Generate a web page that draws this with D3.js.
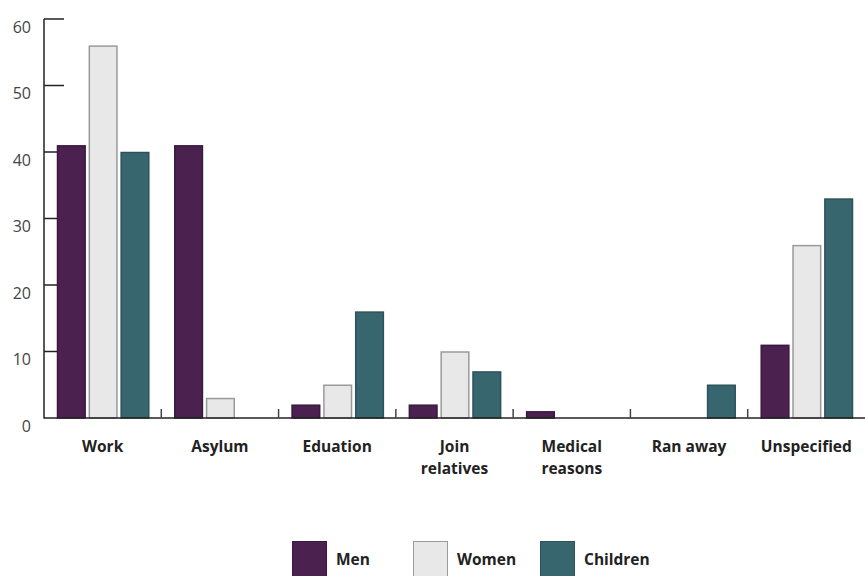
<!DOCTYPE html>
<html><head><meta charset="utf-8">
<script src="https://cdn.jsdelivr.net/npm/d3@7"></script>
<style>body{margin:0;background:#fff}svg{display:block}</style>
</head><body>
<script>
const categories = [["Work"],["Asylum"],["Eduation"],["Join","relatives"],["Medical","reasons"],["Ran away"],["Unspecified"]];
const seriesNames = ["Men","Women","Children"];
const men      = [41, 41, 2, 2, 1, 0, 11];
const women    = [56, 3, 5, 10, 0, 0, 26];
const children = [40, 0, 16, 7, 0, 5, 33];
const yTicks = [0,10,20,30,40,50,60];

const fills = ["#4b2150","#e8e8e8","#37666f"];
const strokes = ["#3a1840","#9a9a9a","#2c525a"];
const series = [men, women, children];

const W = 865, H = 576;
const svg = d3.select("body").append("svg").attr("width",W).attr("height",H);
const font = "'Open Sans', Lato, sans-serif";

const x0 = d3.scaleBand().domain(d3.range(categories.length)).range([44, 865]).paddingInner(0).paddingOuter(0);
const x1 = d3.scaleBand().domain(d3.range(3)).range([13, x0.bandwidth()-12]).paddingInner(0.1).paddingOuter(0);
const y = d3.scaleLinear().domain([0,60]).range([418, 19]);

// y-axis ticks (drawn behind bars)
const gy = svg.append("g");
gy.selectAll("line.t").data(yTicks.filter(d=>d>0)).join("line")
  .attr("x1",44).attr("x2",64).attr("y1",d=>y(d)).attr("y2",d=>y(d))
  .attr("stroke","#222").attr("stroke-width",1.5);
gy.selectAll("text").data(yTicks).join("text")
  .attr("x",31).attr("y",d=>y(d)+8).attr("dy","0.35em").attr("text-anchor","end")
  .attr("font-family",font).attr("font-size",16).attr("fill","#444").text(d=>d);

// bars
const g = svg.append("g");
categories.forEach((c,i)=>{
  series.forEach((s,j)=>{
    const v = s[i];
    if (v<=0) return;
    g.append("rect")
      .attr("x", x0(i)+x1(j)+0.5).attr("y", y(v)+0.5)
      .attr("width", x1.bandwidth()-1).attr("height", y(0)-y(v)-0.5)
      .attr("fill", fills[j]).attr("stroke", strokes[j]).attr("stroke-width",1.5);
  });
});

// axes lines
svg.append("line").attr("x1",44).attr("x2",44).attr("y1",19).attr("y2",418.5).attr("stroke","#222").attr("stroke-width",1.5);
svg.append("line").attr("x1",44).attr("x2",865).attr("y1",418).attr("y2",418).attr("stroke","#222").attr("stroke-width",1.5);
// category separators
svg.selectAll("line.sep").data(d3.range(1,categories.length)).join("line")
  .attr("x1",d=>x0(d)).attr("x2",d=>x0(d)).attr("y1",409).attr("y2",418)
  .attr("stroke","#444").attr("stroke-width",1.5);

// category labels
categories.forEach((c,i)=>{
  const t = svg.append("text").attr("x", x0(i)+x0.bandwidth()/2).attr("y",452)
    .attr("text-anchor","middle").attr("font-family",font).attr("font-weight",700)
    .attr("font-size",15.5).attr("fill","#222");
  c.forEach((line,k)=> t.append("tspan").attr("x", x0(i)+x0.bandwidth()/2).attr("dy", k===0?0:22).text(line));
});

// legend
const legX = [292, 413, 540];
seriesNames.forEach((n,j)=>{
  svg.append("rect").attr("x",legX[j]+0.5).attr("y",541.5).attr("width",34).attr("height",40)
    .attr("fill",fills[j]).attr("stroke",strokes[j]).attr("stroke-width",1);
  svg.append("text").attr("x",legX[j]+44).attr("y",565).attr("font-family",font).attr("font-weight",700)
    .attr("font-size",15.5).attr("fill","#222").text(n);
});
</script>
</body></html>
